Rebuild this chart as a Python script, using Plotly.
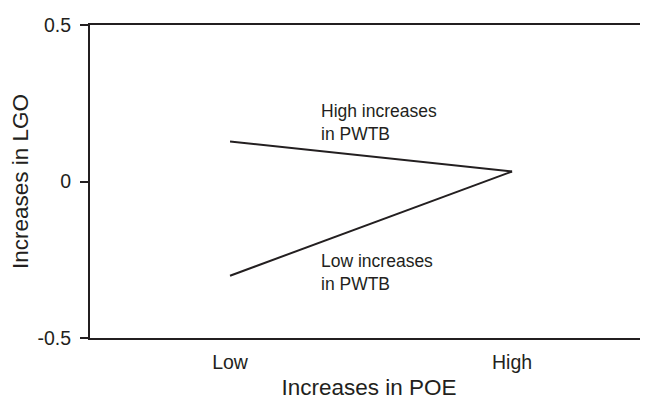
import plotly.graph_objects as go

categories = ["Low", "High"]
x_pos = [1, 2]
high_pwtb = [0.128, 0.032]
low_pwtb = [-0.301, 0.032]
y_ticks = [-0.5, 0, 0.5]
y_tick_labels = ["-0.5", "0", "0.5"]

ink = "#231f20"
font = "Liberation Sans, Arial, sans-serif"

fig = go.Figure()
fig.add_trace(go.Scatter(x=x_pos, y=high_pwtb, mode="lines",
                         line=dict(color=ink, width=2), showlegend=False))
fig.add_trace(go.Scatter(x=x_pos, y=low_pwtb, mode="lines",
                         line=dict(color=ink, width=2), showlegend=False))

fig.add_annotation(x=1.315, y=0.262, xref="x", yref="y", text="High increases<br>in PWTB",
                   showarrow=False, xanchor="left", yanchor="top", align="left",
                   font=dict(family=font, size=17.5, color=ink))
fig.add_annotation(x=1.315, y=-0.215, xref="x", yref="y", text="Low increases<br>in PWTB",
                   showarrow=False, xanchor="left", yanchor="top", align="left",
                   font=dict(family=font, size=17.5, color=ink))

fig.update_layout(
    width=640, height=392,
    margin=dict(l=82, r=0, t=17, b=62),
    plot_bgcolor="white", paper_bgcolor="white",
    font=dict(family=font, color=ink),
    xaxis=dict(range=[0.5035, 2.482], tickvals=x_pos, ticktext=categories,
               showgrid=False, zeroline=False, showline=True, mirror=True,
               linecolor=ink, linewidth=2, ticks="", tickfont=dict(size=19.5),
               ticklabelstandoff=6,
               title=dict(text="Increases in POE", font=dict(size=22.5), standoff=11)),
    yaxis=dict(range=[-0.5, 0.5], tickvals=y_ticks, ticktext=y_tick_labels,
               showgrid=False, zeroline=False, showline=True, mirror=False,
               linecolor=ink, linewidth=2, ticks="outside", ticklen=8, tickwidth=1.5,
               tickcolor=ink, tickfont=dict(size=19.5), ticklabelstandoff=5,
               title=dict(text="Increases in LGO", font=dict(size=22.5), standoff=6)),
)

fig.write_html("out.html")
